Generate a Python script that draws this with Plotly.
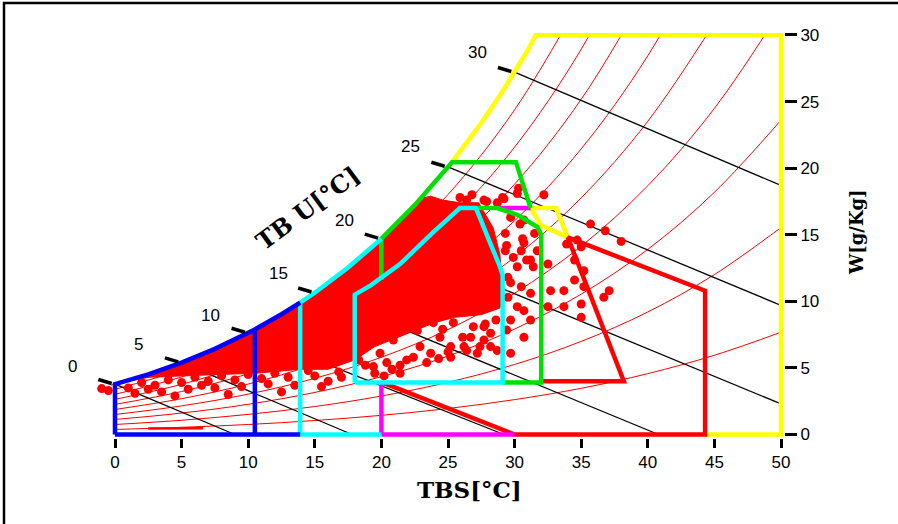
import plotly.graph_objects as go

# ---------------- data ----------------
TBS_TICKS = [0, 5, 10, 15, 20, 25, 30, 35, 40, 45, 50]
W_TICKS = [0, 5, 10, 15, 20, 25, 30]

# saturation curve (TBS [°C], W [g/kg])
SAT_T = [-1, 0, 2.5, 5, 7.5, 10, 10.5, 12.5, 13.9, 15, 17.5, 20, 22.5, 25, 25.3, 27.5, 29, 30, 31, 31.6]
SAT_W = [3.50, 3.78, 4.52, 5.40, 6.43, 7.63, 7.89, 9.03, 9.90, 10.65, 12.54, 14.70, 17.22, 20.09, 20.45,
         23.39, 25.62, 27.21, 28.88, 29.98]

# relative humidity curves 10% ... 90%
RH_T = [0, 5, 10, 15, 20, 25, 30, 35, 40, 45, 50]
RH10_W = [0.38, 0.54, 0.75, 1.05, 1.44, 1.95, 2.62, 3.47, 4.57, 5.95, 7.68]
RH20_W = [0.75, 1.07, 1.51, 2.10, 2.89, 3.92, 5.26, 6.99, 9.20, 12.01, 15.54]
RH30_W = [1.13, 1.61, 2.27, 3.16, 4.34, 5.89, 7.92, 10.54, 13.90, 18.19, 23.61]
RH40_W = [1.50, 2.15, 3.03, 4.22, 5.80, 7.88, 10.61, 14.14, 18.68, 24.49, 31.89]
RH50_W = [1.88, 2.69, 3.79, 5.28, 7.26, 9.88, 13.31, 17.77, 23.52, 30.91]
RH60_W = [2.26, 3.23, 4.56, 6.35, 8.74, 11.90, 16.05, 21.45, 28.44, 37.47]
RH70_W = [2.64, 3.77, 5.32, 7.42, 10.22, 13.93, 18.80, 25.17, 33.44]
RH80_W = [3.02, 4.32, 6.09, 8.49, 11.70, 15.97, 21.58, 28.93, 38.51]
RH90_W = [3.40, 4.86, 6.86, 9.57, 13.20, 18.02, 24.38, 32.73]
RH_CURVES = [RH10_W, RH20_W, RH30_W, RH40_W, RH50_W, RH60_W, RH70_W, RH80_W, RH90_W]
RH_BAR_T = [2.5, 6.6]
RH_BAR_W = [0.45, 0.47]

# wet bulb (TBU) lines
TBU_VALUES = [0, 5, 10, 15, 20, 25, 30]
TBU_START_W = [3.78, 5.40, 7.63, 10.65, 14.70, 20.09, 27.21]
TBU_END_T = [9.0, 17.8, 29.2, 40.8, 50, 50, 50]
TBU_END_W = [0, 0, 0, 0, 2.3, 9.7, 18.7]
TBU_LABEL_T = [-3.2, 1.75, 7.2, 12.25, 17.2, 22.2, 27.2]
TBU_LABEL_W = [5.1, 6.75, 8.9, 12.1, 16.05, 21.6, 28.7]

# dense cloud of measured hours (solid core outline)
CORE_T = [-0.3, 0, 2.5, 5, 7.5, 10, 12.5, 15, 17.5, 20, 22.5, 23.0, 23.7, 24.6, 25.9, 27.3, 28.4, 28.9,
          29.1, 28.9, 27.5, 25.5, 24.0, 22.5, 21.0, 19.5, 18.0, 16.0, 13.9, 10.6, 7.6, 5.0, 2.6, 0.4]
CORE_W = [3.70, 3.78, 4.52, 5.40, 6.43, 7.63, 9.03, 10.65, 12.54, 14.70, 17.22, 17.73, 17.9, 17.6, 17.4,
          17.4, 15.5, 13.5, 10.5, 9.5, 9.0, 8.8, 8.4, 7.8, 7.2, 6.6, 5.6, 4.9, 4.9, 4.6, 4.5, 4.4, 4.3, 3.9]

# scattered individual hours outside the core
PTS_T = [25.9, 26.8, 27.7, 29.1, 30.2, 32.2, 30.3, 29.2, 27.9, 29.7, 30.7, 29.3, 30.6, 31.5, 29.3, 30.5,
         31.2, 30.2, 29.5, 30.5, 29.5, 30.7, 29.7, 27.7, 26.7, 27.7, 25.2, 27.2, 28.7, 32.5, 32.7, 33.7,
         32.5, 33.7, 35.0, 34.5, 35.2, 36.7, 37.1, 33.9, 35.0, 34.5, 35.2, 35.7, 36.8, 38.0, 35.0, 34.7,
         29.4, 30.7, 30.9, 29.7, 31.2, 30.2, 31.2, 29.4, 30.7, 29.7, 29.9, 31.4, 30.4, 31.7, 26.4, 28.7,
         18.8, 20.2, 21.4, 22.4, 23.7, 25.0, 26.2, 20.8, 24.3, 28.2, 27.8, 19.5,
         18.4, 19.1, 19.9, 19.4, 20.9, 21.9, 21.4, 22.9, 23.4, 24.4, 25.2, 26.1, 26.9, 27.4, 28.2, 22.7,
         23.9, 20.4, 25.4, 26.4, 18.3, 24.6, 28.6,
         -1.0, -0.5, 1, 2, 3, 4, 5, 6, 7, 8, 9, 10, 11, 12, 13, 1.5, 3.5, 5.5, 7.5, 9.5, 11.5, 13.5,
         15, 16, 17, 4.5, 8.5, 12.5, 6.5, 2.5, 14.5, 15.5, 16.8]
PTS_W = [17.8, 18.0, 17.6, 17.8, 18.1, 18.0, 18.5, 17.7, 17.5, 16.3, 16.1, 15.1, 14.7, 15.1, 13.8, 13.8,
         13.1, 12.6, 11.8, 11.1, 10.3, 9.3, 8.6, 8.1, 7.3, 7.1, 6.6, 6.1, 6.3, 12.8, 10.8, 10.8,
         9.6, 9.6, 9.8, 11.6, 11.1, 10.3, 10.8, 14.3, 14.1, 13.1, 12.3, 15.8, 15.3, 14.5, 8.8, 14.6,
         14.2, 14.4, 13.1, 11.4, 10.6, 9.6, 8.6, 7.85, 7.3, 6.1, 13.3, 12.6, 15.8, 13.8, 17.6, 17.4,
         5.2, 4.4, 5.2, 5.8, 6.1, 6.2, 6.6, 4.9, 5.7, 6.6, 8.3, 4.6,
         6.6, 7.8, 6.1, 5.1, 7.1, 5.6, 4.6, 6.6, 5.4, 7.3, 5.8, 7.3, 8.1, 6.6, 7.6, 7.8,
         8.4, 5.4, 8.4, 6.3, 5.6, 7.9, 8.6,
         3.45, 3.3, 3.5, 3.9, 3.7, 4.1, 3.9, 4.3, 4.0, 4.4, 4.1, 4.5, 4.2, 4.6, 4.3, 3.1, 3.2, 3.4, 3.5,
         3.6, 3.8, 3.7, 4.4, 4.0, 4.3, 2.9, 3.0, 3.2, 3.7, 3.4, 4.8, 3.6, 4.7]

# bioclimatic zones (vertex lists, None separates pieces)
BLUE_T = [0, 13.9, None, 0, 0, None, 10.5, 10.5]
BLUE_W = [0, 0, None, 0, 3.78, None, 0, 7.89]
CYAN_T = [13.9, 20, None, 13.9, 13.9, None,
          18.0, 29.1, 29.1, 28.9, 28.2, 27.1, 25.9, 23.9, 21.4, 19.2, 18.0, 18.0]
CYAN_W = [0, 0, None, 0, 9.90, None,
          3.9, 3.9, 12.0, 12.6, 14.3, 17.0, 17.0, 15.2, 12.8, 11.2, 10.5, 3.9]
MAGENTA_T = [20, 30, None, 20, 20, None, 28.7, 31.2]
MAGENTA_W = [0, 0, None, 0, 3.9, None, 17.0, 17.0]
RED_T = [20.1, 30, 44.3, 44.3, 34.0, 38.2, 32.0]
RED_W = [3.9, 0, 0, 10.8, 14.8, 4.0, 4.0]
GREEN_T = [20, 20, None, 25.3, 30.1, 31.2, None, 27.2, 28.7, 30.2, 31.7, 32.0, 32.0, 29.1]
GREEN_W = [11.6, 14.7, None, 20.45, 20.45, 17.0, None, 17.0, 17.0, 16.5, 15.6, 15.0, 3.9, 3.9]
YELLOW_T = [44.3, 50, 50, 31.6, None, 31.2, 33.1, 34.0, 32.0, 31.2]
YELLOW_W = [0, 0, 30, 30, None, 17.0, 17.0, 14.8, 15.7, 17.0]

# ---------------- geometry of the page ----------------
FIG_W, FIG_H = 898, 524
ML, MR, MT, MB = 62, 114, 33, 86
X0_PX, SX = 115, 13.32      # pixel of TBS=0, pixels per °C
Y0_PX, SY = 434.5, 13.317   # pixel of W=0, pixels per g/kg
PLOT_W = FIG_W - ML - MR
PLOT_H = FIG_H - MT - MB
x_range = [(ML - X0_PX) / SX, (FIG_W - MR - X0_PX) / SX]
y_range = [(Y0_PX - (FIG_H - MB)) / SY, (Y0_PX - MT) / SY]


def px2paper_x(px):
    return (px - ML) / PLOT_W


def px2paper_y(py):
    return (FIG_H - MB - py) / PLOT_H


def sat_slice(t0, t1):
    ts, ws = [], []
    for t, w in zip(SAT_T, SAT_W):
        if min(t0, t1) - 1e-9 <= t <= max(t0, t1) + 1e-9:
            ts.append(t)
            ws.append(w)
    if t0 > t1:
        ts, ws = ts[::-1], ws[::-1]
    return ts, ws


fig = go.Figure()
RED = "#ff0000"

# RH curves
for ws in RH_CURVES:
    fig.add_trace(go.Scatter(x=RH_T[:len(ws)], y=ws, mode="lines", line=dict(color=RED, width=1, shape="spline"),
                             hoverinfo="skip", showlegend=False))
fig.add_trace(go.Scatter(x=RH_BAR_T, y=RH_BAR_W, mode="lines", line=dict(color=RED, width=2.5), showlegend=False))
# saturation curve
st, sw = sat_slice(0, 31.6)
fig.add_trace(go.Scatter(x=st, y=sw, mode="lines", line=dict(color=RED, width=1), showlegend=False))

# wet bulb lines
wx, wy = [], []
for s_t, s_w, e_t, e_w in zip(TBU_VALUES, TBU_START_W, TBU_END_T, TBU_END_W):
    wx += [s_t, e_t, None]
    wy += [s_w, e_w, None]
fig.add_trace(go.Scatter(x=wx, y=wy, mode="lines", line=dict(color="black", width=1.3), showlegend=False))

# dense core of data
fig.add_trace(go.Scatter(x=CORE_T, y=CORE_W, mode="lines", fill="toself", fillcolor=RED,
                         line=dict(color=RED, width=1), showlegend=False))
# individual points
fig.add_trace(go.Scatter(x=PTS_T, y=PTS_W, mode="markers", marker=dict(color=RED, size=9, symbol="circle"),
                         showlegend=False))

ZW = 4.5
# yellow
yt, yw = sat_slice(31.6, 25.3)
fig.add_trace(go.Scatter(x=YELLOW_T[:4] + yt[1:] + [None] + YELLOW_T[5:],
                         y=YELLOW_W[:4] + yw[1:] + [None] + YELLOW_W[5:],
                         mode="lines", line=dict(color="#ffff00", width=ZW), showlegend=False))
# red
fig.add_trace(go.Scatter(x=RED_T, y=RED_W, mode="lines", line=dict(color=RED, width=ZW), showlegend=False))
# magenta
fig.add_trace(go.Scatter(x=MAGENTA_T, y=MAGENTA_W, mode="lines", line=dict(color="#ff00ff", width=ZW),
                         showlegend=False))
# green
gt, gw = sat_slice(20, 25.3)
fig.add_trace(go.Scatter(x=GREEN_T[:2] + gt[1:] + GREEN_T[4:], y=GREEN_W[:2] + gw[1:] + GREEN_W[4:],
                         mode="lines", line=dict(color="#00e000", width=ZW), showlegend=False))
# cyan
ct, cw = sat_slice(13.9, 20)
fig.add_trace(go.Scatter(x=CYAN_T[:5] + ct[1:] + [None] + CYAN_T[6:],
                         y=CYAN_W[:5] + cw[1:] + [None] + CYAN_W[6:],
                         mode="lines", line=dict(color="#00ffff", width=ZW), showlegend=False))
# blue
bt, bw = sat_slice(0, 13.9)
fig.add_trace(go.Scatter(x=BLUE_T[:5] + bt[1:] + [None] + BLUE_T[6:],
                         y=BLUE_W[:5] + bw[1:] + [None] + BLUE_W[6:],
                         mode="lines", line=dict(color="#0000ff", width=ZW), showlegend=False))

# TBU tick marks on saturation curve
kx, ky = [], []
for t, w in zip(TBU_VALUES, TBU_START_W):
    kx += [t - 1.25, t - 0.25, None]
    ky += [w + 0.35, w + 0.05, None]
fig.add_trace(go.Scatter(x=kx, y=ky, mode="lines", line=dict(color="black", width=3.5), showlegend=False))

annotations = []
for v, lt, lw in zip(TBU_VALUES, TBU_LABEL_T, TBU_LABEL_W):
    annotations.append(dict(x=lt, y=lw, xref="x", yref="y", text=str(v), showarrow=False,
                            font=dict(family="Liberation Sans, Arial", size=17, color="black")))
annotations.append(dict(x=(469 - X0_PX) / SX, y=px2paper_y(489), xref="x", yref="paper", text="<b>TBS[°C]</b>",
                        showarrow=False, font=dict(family="DejaVu Serif", size=23, color="black"),
                        xanchor="center", yanchor="middle"))
annotations.append(dict(x=px2paper_x(856), y=(Y0_PX - 232) / SY, xref="paper", yref="y", text="<b>W[g/Kg]</b>",
                        showarrow=False, textangle=-90, font=dict(family="DejaVu Serif", size=18, color="black"),
                        xanchor="center", yanchor="middle"))
annotations.append(dict(x=(307 - X0_PX) / SX, y=(Y0_PX - 208) / SY, xref="x", yref="y", text="<b>TB U[°C]</b>",
                        showarrow=False, textangle=-36.5, font=dict(family="DejaVu Serif", size=24, color="black"),
                        xanchor="center", yanchor="middle"))

fig.update_layout(
    width=FIG_W, height=FIG_H,
    margin=dict(l=ML, r=MR, t=MT, b=MB, pad=0),
    paper_bgcolor="white", plot_bgcolor="white",
    showlegend=False,
    annotations=annotations,
    shapes=[dict(type="rect", xref="paper", yref="paper", x0=px2paper_x(4), x1=1.3, y0=-0.4,
                 y1=px2paper_y(3), line=dict(color="black", width=2.5), fillcolor="rgba(0,0,0,0)", layer="above")],
    xaxis=dict(range=x_range, tickmode="array", tickvals=TBS_TICKS, ticktext=[str(v) for v in TBS_TICKS],
               ticks="outside", ticklen=9, tickwidth=3, tickcolor="black", showgrid=False, zeroline=False,
               showline=False, tickfont=dict(family="Liberation Sans, Arial", size=17, color="black")),
    yaxis=dict(range=y_range, side="right", tickmode="array", tickvals=W_TICKS,
               ticktext=[str(v) for v in W_TICKS], ticks="outside", ticklen=12, tickwidth=3, tickcolor="black",
               showgrid=False, zeroline=False, showline=False,
               tickfont=dict(family="Liberation Sans, Arial", size=17, color="black")),
)

fig.write_html("out.html", config={"displayModeBar": False},
               post_script="document.body.style.margin='0';document.body.style.overflow='hidden';")
